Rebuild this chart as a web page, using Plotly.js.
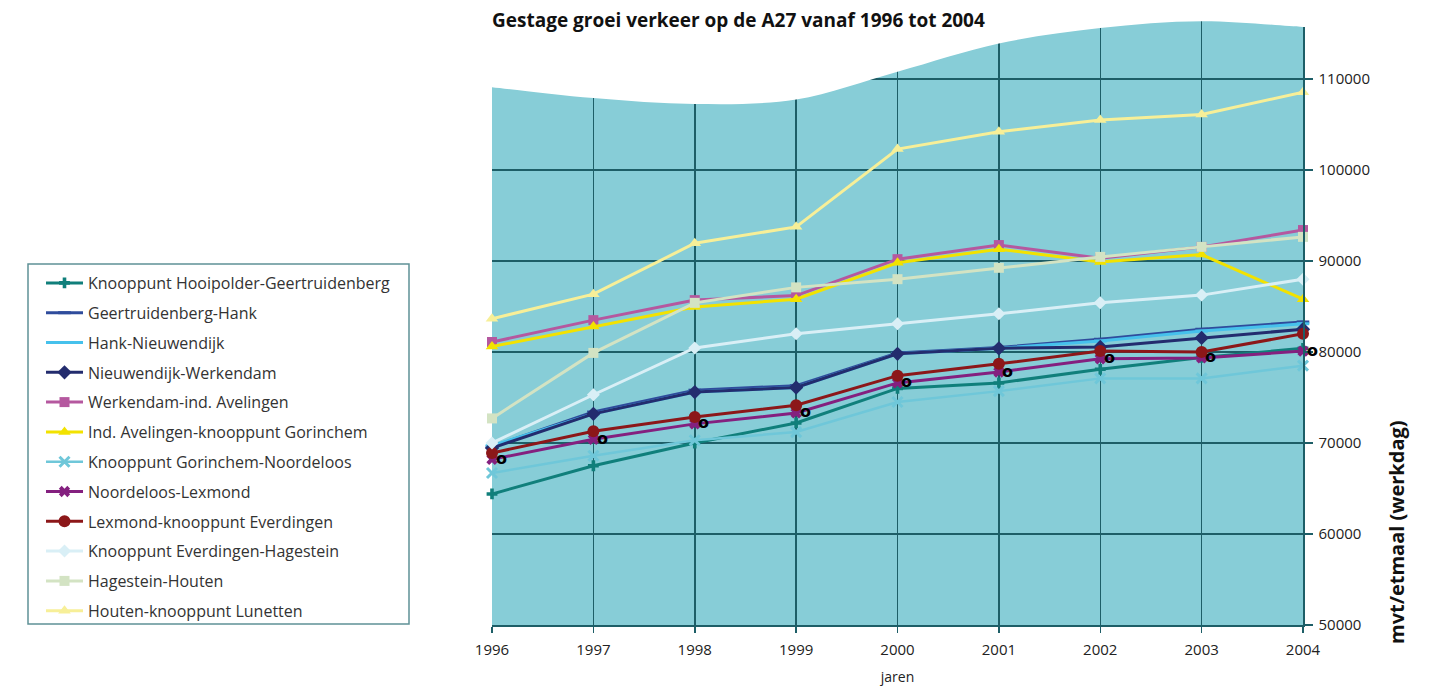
<!DOCTYPE html>
<html>
<head>
<meta charset="utf-8">
<script src="https://cdn.plot.ly/plotly-3.0.1.min.js"></script>
<style>
html,body{margin:0;padding:0;background:#ffffff;}
#chart{width:1433px;height:686px;}
</style>
</head>
<body>
<div id="chart"></div>
<script>
// ---------- DATA ----------
const years = [1996, 1997, 1998, 1999, 2000, 2001, 2002, 2003, 2004];
const yTickValues = [50000, 60000, 70000, 80000, 90000, 100000, 110000];
const seriesNames = [
  "Knooppunt Hooipolder-Geertruidenberg",
  "Geertruidenberg-Hank",
  "Hank-Nieuwendijk",
  "Nieuwendijk-Werkendam",
  "Werkendam-ind. Avelingen",
  "Ind. Avelingen-knooppunt Gorinchem",
  "Knooppunt Gorinchem-Noordeloos",
  "Noordeloos-Lexmond",
  "Lexmond-knooppunt Everdingen",
  "Knooppunt Everdingen-Hagestein",
  "Hagestein-Houten",
  "Houten-knooppunt Lunetten"
];
const hooipolderGeertruidenberg = [64400, 67500, 70000, 72200, 76000, 76600, 78100, 79400, 80400];
const geertruidenbergHank       = [69600, 73400, 75800, 76300, 79900, 80500, 81400, 82500, 83300];
const hankNieuwendijk           = [69700, 73200, 75600, 76100, 79800, 80400, 81200, 82300, 83100];
const nieuwendijkWerkendam      = [69450, 73200, 75600, 76100, 79800, 80400, 80550, 81550, 82500];
const werkendamAvelingen        = [81100, 83500, 85700, 86200, 90200, 91750, 90300, 91550, 93400];
const avelingenGorinchem        = [80600, 82800, 84950, 85800, 89800, 91300, 89900, 90700, 85800];
const gorinchemNoordeloos       = [66700, 68600, 70300, 71200, 74500, 75700, 77100, 77100, 78500];
const noordeloosLexmond         = [68200, 70400, 72100, 73300, 76600, 77800, 79250, 79350, 80100];
const lexmondEverdingen         = [68900, 71300, 72850, 74150, 77400, 78700, 80100, 80000, 82000];
const everdingenHagestein       = [70000, 75300, 80450, 82000, 83100, 84200, 85400, 86250, 88000];
const hagesteinHouten           = [72700, 79900, 85400, 87100, 88000, 89250, 90450, 91550, 92650];
const houtenLunetten            = [83650, 86350, 91950, 93750, 102300, 104200, 105500, 106100, 108550];

const allSeries = [
  hooipolderGeertruidenberg, geertruidenbergHank, hankNieuwendijk, nieuwendijkWerkendam,
  werkendamAvelingen, avelingenGorinchem, gorinchemNoordeloos, noordeloosLexmond,
  lexmondEverdingen, everdingenHagestein, hagesteinHouten, houtenLunetten
];

// ---------- STYLES ----------
const styles = [
  {color:"#107f7b", width:3,   symbol:"cross",         size:9,  mline:0},
  {color:"#2f4c9c", width:3,   symbol:"line-ew-open",  size:9,  mline:3},
  {color:"#46c1ec", width:3,   symbol:"line-ew-open",  size:9,  mline:3},
  {color:"#232c6e", width:3,   symbol:"diamond",       size:11, mline:0},
  {color:"#b5589f", width:3,   symbol:"square",        size:10, mline:0},
  {color:"#f2e200", width:3,   symbol:"triangle-up",   size:11, mline:0},
  {color:"#6fc7d9", width:2.5, symbol:"x-thin-open",   size:10, mline:3},
  {color:"#84207f", width:3,   symbol:"x",             size:10, mline:0},
  {color:"#8c1719", width:3,   symbol:"circle",        size:12, mline:0},
  {color:"#d9eff6", width:3,   symbol:"diamond",       size:10, mline:0},
  {color:"#d3e3c3", width:3,   symbol:"square",        size:10, mline:0},
  {color:"#f7ef98", width:3,   symbol:"triangle-up",   size:11, mline:0}
];

const traces = allSeries.map((vals, i) => {
  const s = styles[i];
  return {
    type: "scatter",
    mode: "lines+markers",
    name: seriesNames[i],
    x: years,
    y: vals,
    legendgroup: "g" + i,
    line: {color: s.color, width: s.width},
    marker: {
      symbol: s.symbol, size: s.size, color: s.color,
      line: {color: s.color, width: s.mline}
    },
    cliponaxis: false
  };
});

// black rings beside the Noordeloos-Lexmond points
const ringAnnotations = years.map((yr, i) => ({
  x: yr, y: noordeloosLexmond[i], xref: "x", yref: "y",
  text: "<b>o</b>", showarrow: false,
  font: {family: "DejaVu Sans", size: 16, color: "#000000"},
  xshift: 9, yshift: 1
}));

const fontFam = "'Open Sans', 'Noto Sans', sans-serif";
const W = 1433, H = 686, ML = 492, MR = 130, MT = 18, MB = 61;
const PW = W - ML - MR, PH = H - MT - MB;
const px2paperX = px => (px - ML) / PW;
const px2paperY = py => (H - MB - py) / PH;

const annotations = ringAnnotations.concat([{
  xref: "paper", yref: "paper",
  x: px2paperX(1396), y: px2paperY(532),
  text: "<b>mvt/etmaal (werkdag)</b>", textangle: -90, showarrow: false,
  font: {family: fontFam, size: 20, color: "#111111"},
  xanchor: "center", yanchor: "middle"
}]);

// decorative wave (top edge of the coloured background), x in paper units
const wave = [
  [0.000, 109100], [0.125, 107900], [0.250, 107250], [0.375, 107750],
  [0.500, 110800], [0.625, 113900], [0.750, 115600], [0.875, 116350], [1.000, 115700]
];
function wavePath() {
  let d = "M -0.02,118500 L -0.02," + wave[0][1] + " L " + wave[0][0] + "," + wave[0][1];
  for (let i = 0; i < wave.length - 1; i++) {
    const p0 = wave[Math.max(0, i - 1)], p1 = wave[i], p2 = wave[i + 1], p3 = wave[Math.min(wave.length - 1, i + 2)];
    const c1 = [p1[0] + (p2[0] - p0[0]) / 6, p1[1] + (p2[1] - p0[1]) / 6];
    const c2 = [p2[0] - (p3[0] - p1[0]) / 6, p2[1] - (p3[1] - p1[1]) / 6];
    d += " C " + c1[0] + "," + c1[1] + " " + c2[0] + "," + c2[1] + " " + p2[0] + "," + p2[1];
  }
  const last = wave[wave.length - 1];
  d += " L 1.006," + last[1] + " L 1.006,118500 Z";
  return d;
}

const gridColor = "#1d5e67";

const layout = {
  width: W,
  height: H,
  margin: {l: ML, r: MR, t: MT, b: MB, pad: 0},
  paper_bgcolor: "#ffffff",
  plot_bgcolor: "#87cdd7",
  showlegend: true,
  title: {
    text: "<b>Gestage groei verkeer op de A27 vanaf 1996 tot 2004</b>",
    font: {family: fontFam, size: 19, color: "#111111"},
    xref: "paper", x: 0, xanchor: "left",
    yref: "container", y: 0.970, yanchor: "middle"
  },
  xaxis: {
    range: [1996, 2004],
    tickmode: "array",
    tickvals: years,
    ticktext: years.map(String),
    showgrid: true,
    gridcolor: gridColor,
    gridwidth: 1.5,
    zeroline: false,
    showline: true,
    linecolor: gridColor,
    linewidth: 2,
    ticks: "outside",
    ticklen: 6,
    tickcolor: gridColor,
    tickwidth: 1.5,
    ticklabelstandoff: 4,
    tickfont: {family: fontFam, size: 15, color: "#222222"},
    title: {text: "jaren", font: {family: fontFam, size: 14, color: "#222222"}, standoff: 20}
  },
  yaxis: {
    range: [50000, 116700],
    side: "right",
    tickmode: "array",
    tickvals: yTickValues,
    ticktext: yTickValues.map(String),
    showgrid: true,
    gridcolor: gridColor,
    gridwidth: 1.5,
    zeroline: false,
    showline: true,
    linecolor: gridColor,
    linewidth: 1.5,
    ticks: "outside",
    ticklen: 8,
    tickcolor: gridColor,
    tickwidth: 1.5,
    ticklabelstandoff: 3,
    tickfont: {family: fontFam, size: 15, color: "#222222"}
  },
  legend: {
    x: px2paperX(41), xanchor: "left",
    y: px2paperY(266), yanchor: "top",
    bgcolor: "rgba(0,0,0,0)",
    borderwidth: 0,
    font: {family: fontFam, size: 16, color: "#333333"},
    tracegroupgap: 6,
    itemwidth: 37
  },
  shapes: [
    {
      type: "path", xref: "paper", yref: "y", layer: "above",
      path: wavePath(),
      fillcolor: "#ffffff", line: {width: 0}
    },
    {
      type: "rect", xref: "paper", yref: "paper", layer: "below",
      x0: px2paperX(28), x1: px2paperX(409), y0: px2paperY(264), y1: px2paperY(624),
      fillcolor: "#ffffff", line: {color: "#5f9196", width: 1.5}
    }
  ],
  annotations: annotations
};

Plotly.newPlot("chart", traces, layout, {displayModeBar: false, staticPlot: true});
</script>
</body>
</html>
